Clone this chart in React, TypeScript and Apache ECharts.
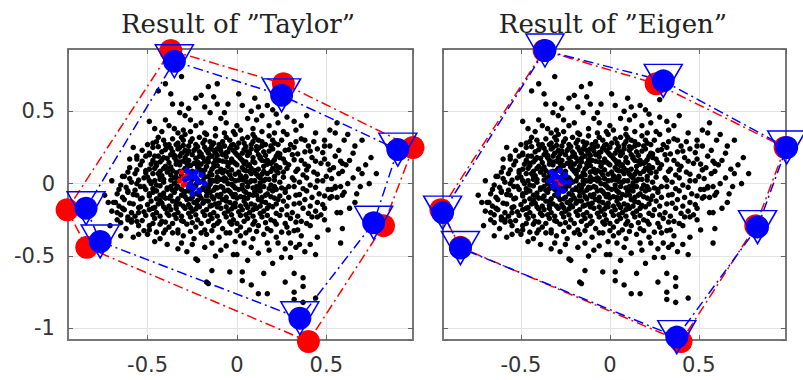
import React, { useEffect, useRef } from "react";
import * as echarts from "echarts";

// Black sample cloud (shared by both panels)
const cloudCore: number[][] = [
  [-0.47,0.28],[-0.44,0.32],[-0.38,0.27],[-0.36,0.31],[-0.30,0.30],[-0.29,0.34],[-0.23,0.27],[-0.21,0.32],[-0.15,0.29],[-0.12,0.33],[-0.10,0.27],[-0.04,0.30],[-0.01,0.34],[0.04,0.28],[0.06,0.32],[0.12,0.30],[0.16,0.27],[0.18,0.33],[0.25,0.30],[0.30,0.27],[0.36,0.31],[0.43,0.29],[0.49,0.26],
  [-0.53,0.23],[-0.47,0.25],[-0.42,0.22],[-0.39,0.26],[-0.33,0.24],[-0.31,0.21],[-0.27,0.26],[-0.24,0.23],[-0.18,0.25],[-0.16,0.21],[-0.11,0.24],[-0.07,0.26],[-0.05,0.22],[0.00,0.25],[0.03,0.21],[0.08,0.24],[0.14,0.26],[0.15,0.22],[0.20,0.24],[0.27,0.23],[0.32,0.25],[0.38,0.22],[0.45,0.24],[0.52,0.26],[0.57,0.23],
  [-0.56,0.17],[-0.51,0.19],[-0.47,0.16],[-0.41,0.18],[-0.37,0.20],[-0.34,0.16],[-0.29,0.18],[-0.25,0.20],[-0.22,0.15],[-0.19,0.18],[-0.14,0.19],[-0.10,0.16],[-0.08,0.20],[-0.03,0.17],[0.01,0.19],[0.05,0.15],[0.09,0.18],[0.12,0.20],[0.17,0.16],[0.22,0.19],[0.26,0.17],[0.31,0.20],[0.36,0.16],[0.42,0.18],[0.49,0.17],[0.55,0.19],[0.63,0.16],
  [-0.60,0.11],[-0.54,0.13],[-0.49,0.10],[-0.45,0.14],[-0.40,0.12],[-0.36,0.09],[-0.32,0.13],[-0.28,0.11],[-0.24,0.14],[-0.21,0.10],[-0.17,0.12],[-0.12,0.14],[-0.09,0.10],[-0.05,0.12],[-0.02,0.15],[0.03,0.11],[0.07,0.13],[0.10,0.09],[0.15,0.12],[0.19,0.14],[0.24,0.11],[0.29,0.13],[0.34,0.10],[0.40,0.12],[0.47,0.14],[0.54,0.11],[0.61,0.13],[0.68,0.10],
  [-0.63,0.05],[-0.57,0.07],[-0.52,0.04],[-0.47,0.07],[-0.43,0.05],[-0.39,0.08],[-0.35,0.04],[-0.31,0.06],[-0.27,0.08],[-0.23,0.04],[-0.19,0.07],[-0.16,0.05],[-0.11,0.08],[-0.07,0.04],[-0.04,0.06],[0.01,0.08],[0.05,0.05],[0.08,0.07],[0.13,0.04],[0.17,0.07],[0.21,0.05],[0.26,0.08],[0.31,0.04],[0.37,0.06],[0.43,0.08],[0.50,0.05],[0.57,0.07],[0.65,0.04],
  [-0.65,-0.01],[-0.59,0.01],[-0.54,-0.02],[-0.49,0.02],[-0.45,-0.01],[-0.41,0.01],[-0.37,-0.02],[-0.33,0.02],[-0.29,0.00],[-0.25,-0.02],[-0.21,0.01],[-0.17,-0.01],[-0.13,0.02],[-0.09,-0.02],[-0.05,0.00],[-0.01,0.02],[0.03,-0.01],[0.07,0.01],[0.11,-0.02],[0.15,0.02],[0.19,-0.01],[0.24,0.01],[0.29,-0.02],[0.35,0.01],[0.41,-0.01],[0.48,0.02],[0.55,-0.02],[0.62,0.00],
  [-0.67,-0.07],[-0.61,-0.05],[-0.56,-0.08],[-0.51,-0.04],[-0.47,-0.06],[-0.43,-0.08],[-0.39,-0.04],[-0.35,-0.06],[-0.31,-0.08],[-0.27,-0.05],[-0.23,-0.07],[-0.19,-0.04],[-0.15,-0.06],[-0.11,-0.08],[-0.07,-0.05],[-0.03,-0.07],[0.01,-0.04],[0.05,-0.06],[0.09,-0.08],[0.13,-0.05],[0.17,-0.07],[0.22,-0.04],[0.27,-0.06],[0.33,-0.08],[0.39,-0.05],[0.46,-0.07],[0.53,-0.04],[0.60,-0.06],
  [-0.68,-0.13],[-0.63,-0.11],[-0.58,-0.14],[-0.53,-0.10],[-0.48,-0.12],[-0.44,-0.14],[-0.40,-0.10],[-0.36,-0.12],[-0.32,-0.14],[-0.28,-0.11],[-0.24,-0.13],[-0.20,-0.10],[-0.16,-0.12],[-0.12,-0.14],[-0.08,-0.11],[-0.04,-0.13],[0.00,-0.10],[0.04,-0.12],[0.08,-0.14],[0.12,-0.11],[0.16,-0.13],[0.21,-0.10],[0.26,-0.12],[0.32,-0.14],[0.38,-0.11],[0.45,-0.13],[0.52,-0.10],
  [-0.70,-0.19],[-0.64,-0.17],[-0.59,-0.20],[-0.54,-0.16],[-0.49,-0.18],[-0.45,-0.20],[-0.41,-0.16],[-0.37,-0.18],[-0.33,-0.20],[-0.29,-0.17],[-0.25,-0.19],[-0.21,-0.16],[-0.17,-0.18],[-0.13,-0.20],[-0.09,-0.17],[-0.05,-0.19],[-0.01,-0.16],[0.03,-0.18],[0.07,-0.20],[0.11,-0.17],[0.15,-0.19],[0.20,-0.16],[0.25,-0.18],[0.31,-0.20],[0.37,-0.17],[0.44,-0.19],
  [-0.67,-0.25],[-0.61,-0.23],[-0.56,-0.26],[-0.51,-0.22],[-0.46,-0.24],[-0.42,-0.26],[-0.38,-0.22],[-0.34,-0.24],[-0.30,-0.26],[-0.26,-0.23],[-0.22,-0.25],[-0.18,-0.22],[-0.14,-0.24],[-0.10,-0.26],[-0.06,-0.23],[-0.02,-0.25],[0.02,-0.22],[0.06,-0.24],[0.10,-0.26],[0.14,-0.23],[0.19,-0.25],[0.24,-0.22],[0.30,-0.24],[0.36,-0.26],[0.42,-0.23],[0.49,-0.25],
  [-0.62,-0.31],[-0.55,-0.29],[-0.49,-0.32],[-0.43,-0.28],[-0.38,-0.30],[-0.33,-0.32],[-0.28,-0.28],[-0.23,-0.30],[-0.18,-0.32],[-0.13,-0.29],[-0.08,-0.31],[-0.03,-0.28],[0.02,-0.30],[0.07,-0.32],[0.12,-0.29],[0.17,-0.31],[0.22,-0.28],[0.28,-0.30],[0.34,-0.32],[0.41,-0.29],
  [-0.58,-0.37],[-0.50,-0.35],[-0.43,-0.38],[-0.36,-0.34],[-0.30,-0.36],[-0.24,-0.38],[-0.17,-0.35],[-0.10,-0.37],[-0.04,-0.34],[0.02,-0.36],[0.09,-0.38],[0.15,-0.35],[0.22,-0.37],[0.29,-0.34],[0.36,-0.36],
  [-0.40,0.27],[-0.33,0.28],[-0.26,0.29],[-0.19,0.28],[-0.08,0.29],[0.01,0.28],[0.09,0.29],[0.21,0.28],
  [-0.36,0.22],[-0.29,0.23],[-0.21,0.22],[-0.13,0.23],[-0.02,0.23],[0.06,0.22],[0.11,0.23],[0.23,0.21],
  [-0.43,0.15],[-0.32,0.15],[-0.27,0.16],[-0.16,0.15],[-0.06,0.15],[0.03,0.16],[0.14,0.16],[0.20,0.15],
  [-0.38,0.10],[-0.30,0.09],[-0.19,0.09],[-0.14,0.10],[-0.07,0.09],[0.05,0.09],[0.12,0.10],[0.22,0.09],
  [-0.41,0.03],[-0.33,0.03],[-0.25,0.03],[-0.14,0.02],[-0.09,0.03],[0.03,0.03],[0.10,0.02],[0.18,0.03],
  [-0.39,-0.03],[-0.31,-0.04],[-0.19,-0.03],[-0.11,-0.03],[-0.01,-0.03],[0.09,-0.03],[0.15,-0.02],[0.25,-0.03],
  [-0.41,-0.09],[-0.29,-0.09],[-0.21,-0.08],[-0.10,-0.09],[0.02,-0.09],[0.11,-0.08],[0.19,-0.09],
  [-0.34,-0.15],[-0.22,-0.15],[-0.14,-0.15],[-0.02,-0.15],[0.10,-0.15],[0.18,-0.15],
];

const cloudFill: number[][] = [
  [-0.33,0.35],[-0.26,0.36],[-0.17,0.34],[-0.07,0.35],[0.02,0.37],[0.09,0.34],[0.14,0.36],[0.21,0.35],[0.28,0.34],
  [-0.50,0.27],[-0.45,0.29],[-0.41,0.30],[-0.34,0.27],[-0.31,0.32],[-0.25,0.31],[-0.18,0.30],[-0.13,0.28],[-0.06,0.32],[-0.02,0.27],[0.03,0.31],[0.08,0.27],[0.10,0.32],[0.14,0.29],[0.20,0.30],[0.23,0.27],[0.33,0.29],[0.40,0.26],
  [-0.49,0.21],[-0.44,0.19],[-0.40,0.235],[-0.35,0.195],[-0.32,0.25],[-0.28,0.205],[-0.23,0.245],[-0.20,0.205],[-0.15,0.24],[-0.12,0.21],[-0.09,0.225],[-0.04,0.245],[-0.01,0.215],[0.04,0.235],[0.06,0.195],[0.11,0.255],[0.13,0.185],[0.18,0.225],[0.24,0.205],[0.29,0.235],[0.34,0.205],[0.41,0.225],[0.48,0.215],
  [-0.53,0.155],[-0.45,0.125],[-0.42,0.165],[-0.38,0.145],[-0.35,0.18],[-0.30,0.155],[-0.26,0.125],[-0.23,0.175],[-0.20,0.135],[-0.16,0.175],[-0.12,0.165],[-0.11,0.125],[-0.06,0.185],[-0.04,0.145],[0.00,0.13],[0.02,0.175],[0.06,0.125],[0.10,0.145],[0.13,0.175],[0.17,0.135],[0.21,0.165],[0.27,0.145],[0.32,0.165],[0.38,0.135],[0.44,0.155],[0.51,0.135],[0.58,0.155],
  [-0.56,0.095],[-0.51,0.075],[-0.46,0.105],[-0.43,0.085],[-0.37,0.115],[-0.34,0.075],[-0.29,0.105],[-0.25,0.085],[-0.22,0.115],[-0.18,0.095],[-0.15,0.075],[-0.13,0.115],[-0.08,0.075],[-0.03,0.095],[-0.01,0.065],[0.04,0.095],[0.08,0.105],[0.11,0.065],[0.15,0.085],[0.20,0.105],[0.23,0.075],[0.28,0.105],[0.33,0.085],[0.39,0.095],[0.45,0.065],[0.52,0.095],[0.59,0.085],
  [-0.60,0.035],[-0.55,0.025],[-0.50,0.045],[-0.46,0.02],[-0.42,0.055],[-0.37,0.025],[-0.34,0.045],[-0.29,0.025],[-0.27,0.045],[-0.22,0.025],[-0.18,0.045],[-0.15,0.02],[-0.11,0.045],[-0.07,0.02],[-0.03,0.035],[0.01,0.025],[0.05,0.045],[0.08,0.02],[0.12,0.05],[0.16,0.03],[0.21,0.025],[0.26,0.045],[0.32,0.025],[0.39,0.04],[0.45,0.02],[0.53,0.035],
  [-0.62,-0.025],[-0.57,-0.045],[-0.52,-0.02],[-0.47,-0.035],[-0.43,-0.015],[-0.36,-0.045],[-0.33,-0.02],[-0.27,-0.03],[-0.23,-0.015],[-0.21,-0.045],[-0.16,-0.03],[-0.13,-0.045],[-0.08,-0.025],[-0.05,-0.045],[-0.02,-0.015],[0.03,-0.035],[0.06,-0.02],[0.11,-0.045],[0.13,-0.02],[0.18,-0.035],[0.21,-0.02],[0.27,-0.04],[0.32,-0.02],[0.37,-0.035],[0.44,-0.025],[0.51,-0.04],[0.58,-0.02],
  [-0.64,-0.095],[-0.58,-0.075],[-0.54,-0.105],[-0.49,-0.085],[-0.45,-0.105],[-0.37,-0.085],[-0.33,-0.105],[-0.30,-0.075],[-0.25,-0.095],[-0.22,-0.115],[-0.17,-0.085],[-0.13,-0.105],[-0.09,-0.075],[-0.06,-0.095],[-0.01,-0.075],[0.04,-0.095],[0.07,-0.075],[0.14,-0.095],[0.16,-0.08],[0.24,-0.085],[0.29,-0.095],[0.35,-0.075],[0.42,-0.095],[0.49,-0.085],[0.56,-0.095],
  [-0.66,-0.155],[-0.60,-0.135],[-0.55,-0.165],[-0.50,-0.145],[-0.46,-0.165],[-0.42,-0.135],[-0.38,-0.155],[-0.30,-0.155],[-0.26,-0.165],[-0.19,-0.135],[-0.15,-0.155],[-0.10,-0.135],[-0.06,-0.16],[-0.01,-0.135],[0.02,-0.155],[0.06,-0.165],[0.13,-0.155],[0.22,-0.14],[0.28,-0.155],[0.35,-0.135],[0.41,-0.155],[0.48,-0.145],
  [-0.65,-0.215],[-0.57,-0.225],[-0.52,-0.195],[-0.47,-0.215],[-0.43,-0.225],[-0.39,-0.205],[-0.35,-0.215],[-0.31,-0.225],[-0.27,-0.205],[-0.23,-0.215],[-0.19,-0.195],[-0.15,-0.215],[-0.11,-0.225],[-0.07,-0.205],[-0.03,-0.215],[0.01,-0.195],[0.05,-0.215],[0.09,-0.225],[0.13,-0.205],[0.17,-0.22],[0.22,-0.205],[0.28,-0.215],[0.34,-0.225],[0.40,-0.205],[0.47,-0.215],
  [-0.59,-0.265],[-0.53,-0.255],[-0.47,-0.275],[-0.40,-0.265],[-0.36,-0.275],[-0.31,-0.255],[-0.25,-0.27],[-0.20,-0.275],[-0.16,-0.26],[-0.11,-0.275],[-0.04,-0.265],[0.00,-0.275],[0.04,-0.26],[0.09,-0.28],[0.16,-0.27],[0.21,-0.26],[0.27,-0.275],[0.33,-0.265],[0.39,-0.275],
  [-0.52,-0.325],[-0.45,-0.335],[-0.40,-0.32],[-0.33,-0.34],[-0.26,-0.33],[-0.20,-0.34],[-0.14,-0.325],[-0.06,-0.34],[0.00,-0.325],[0.05,-0.34],[0.11,-0.33],[0.19,-0.325],[0.25,-0.335],[0.32,-0.325],
];

const cloudDense: number[][] = [
  [-0.44,0.255],[-0.37,0.245],[-0.30,0.265],[-0.22,0.255],[-0.14,0.265],[-0.09,0.25],[-0.03,0.265],[0.05,0.255],[0.12,0.245],[0.19,0.26],
  [-0.46,0.19],[-0.39,0.175],[-0.32,0.19],[-0.27,0.225],[-0.21,0.19],[-0.17,0.23],[-0.11,0.195],[-0.06,0.215],[0.00,0.20],[0.07,0.21],[0.16,0.195],[0.24,0.18],
  [-0.48,0.135],[-0.41,0.105],[-0.34,0.135],[-0.28,0.14],[-0.22,0.125],[-0.18,0.155],[-0.13,0.14],[-0.08,0.155],[-0.01,0.14],[0.04,0.14],[0.09,0.155],[0.16,0.155],[0.22,0.125],
  [-0.44,0.07],[-0.37,0.06],[-0.32,0.085],[-0.26,0.06],[-0.20,0.085],[-0.14,0.06],[-0.09,0.085],[-0.05,0.08],[0.02,0.055],[0.07,0.085],[0.14,0.065],[0.19,0.085],
  [-0.48,0.00],[-0.43,0.03],[-0.35,0.00],[-0.31,0.035],[-0.23,-0.005],[-0.19,0.02],[-0.15,-0.005],[-0.11,0.015],[-0.06,0.03],[-0.03,-0.005],[0.05,0.015],[0.13,0.005],
  [-0.45,-0.05],[-0.41,-0.065],[-0.34,-0.035],[-0.29,-0.055],[-0.25,-0.04],[-0.17,-0.055],[-0.12,-0.025],[-0.04,-0.055],[0.04,-0.05],[0.10,-0.055],[0.20,-0.05],
  [-0.43,-0.115],[-0.38,-0.10],[-0.34,-0.125],[-0.26,-0.105],[-0.18,-0.12],[-0.14,-0.09],[-0.06,-0.12],[-0.02,-0.09],[0.06,-0.10],[0.14,-0.125],[0.23,-0.11],
  [-0.40,-0.175],[-0.34,-0.17],[-0.27,-0.145],[-0.23,-0.175],[-0.11,-0.16],[-0.03,-0.175],[0.05,-0.145],[0.09,-0.18],[0.17,-0.17],
];

const cloudUpper: number[][] = [
  [-0.31,0.74],[-0.40,0.69],[-0.44,0.64],[-0.37,0.62],[-0.16,0.67],[-0.11,0.69],[-0.23,0.59],[-0.20,0.61],[-0.36,0.55],[-0.31,0.55],[-0.13,0.60],[-0.11,0.55],[-0.32,0.49],[-0.29,0.47],[-0.49,0.43],[-0.46,0.38],[-0.42,0.36],[-0.38,0.40],[-0.35,0.38],[-0.30,0.37],[-0.23,0.40],[-0.20,0.42],[-0.15,0.49],[-0.07,0.49],[-0.18,0.35],[-0.12,0.38],
  [0.01,0.62],[0.10,0.59],[0.03,0.54],[0.12,0.53],[0.17,0.54],[0.20,0.51],[0.28,0.58],[0.28,0.46],[0.39,0.47],[0.06,0.45],[0.14,0.47],[0.23,0.42],[0.33,0.37],[0.38,0.30],[0.44,0.35],[0.52,0.37],[0.56,0.42],[0.55,0.35],[0.49,0.30],[0.70,0.30],
  [-0.40,0.44],[-0.26,0.44],[-0.06,0.42],[0.00,0.40],[0.09,0.38],[0.18,0.40],[-0.02,0.36],[0.26,0.36],[-0.09,0.45],[0.11,0.44],[-0.27,0.52],[-0.05,0.55],[0.08,0.50],[-0.18,0.53],[0.22,0.48],[0.32,0.43],[0.36,0.40],[0.62,0.34],[0.66,0.26],[0.60,0.30],
];

const cloudSides: number[][] = [
  [0.59,0.14],[0.65,0.21],[0.70,0.07],[0.74,0.00],[0.75,0.18],[0.55,-0.03],[0.59,-0.08],[0.53,-0.09],[0.67,-0.07],[0.58,-0.20],[0.66,-0.13],[0.49,-0.17],[0.45,-0.23],[0.59,-0.31],[0.51,-0.32],[0.45,-0.37],[0.56,-0.20],[0.58,-0.41],[0.72,0.13],[0.69,-0.02],[0.63,-0.17],[0.78,0.07],
  [-0.56,0.19],[-0.61,0.08],[-0.64,0.05],[-0.56,0.00],[-0.66,-0.04],[-0.61,-0.06],[-0.72,-0.13],[-0.67,-0.20],[-0.63,-0.18],[-0.59,-0.25],[-0.55,-0.20],[-0.65,-0.27],[-0.49,0.20],[-0.51,0.09],[-0.49,-0.07],[-0.47,-0.17],[-0.49,-0.29],[-0.41,-0.34],[-0.55,-0.35],[-0.69,-0.13],[-0.71,-0.29],[-0.61,-0.25],[-0.65,-0.36],[-0.58,0.25],[-0.60,0.17],[-0.70,0.02],[-0.74,-0.08],
];

const cloudLower: number[][] = [
  [-0.46,-0.40],[-0.39,-0.42],[-0.31,-0.41],[-0.25,-0.42],[-0.18,-0.44],[-0.14,-0.41],[-0.09,-0.46],[-0.23,-0.52],[-0.14,-0.60],[-0.04,-0.61],[-0.16,-0.69],[-0.22,-0.53],[-0.17,-0.68],
  [0.04,-0.41],[0.17,-0.41],[0.23,-0.41],[0.30,-0.41],[0.35,-0.42],[0.41,-0.42],[0.00,-0.49],[0.12,-0.48],[0.20,-0.55],[0.25,-0.51],[0.30,-0.51],[0.44,-0.49],[0.15,-0.62],[0.03,-0.61],[0.03,-0.67],[0.08,-0.70],[0.27,-0.68],[0.32,-0.62],[0.37,-0.65],[0.37,-0.71],[0.32,-0.75],[0.12,-0.76],[0.17,-0.76],[0.32,-0.80],[0.37,-0.82],[0.44,-0.79],[-0.02,-0.49],
  [-0.33,-0.45],[-0.06,-0.43],[0.08,-0.44],[0.27,-0.45],[-0.12,-0.50],[0.06,-0.53],[0.38,-0.47],[0.18,-0.46],[-0.28,-0.47],[-0.01,-0.40],[0.33,-0.44],
];

// Ground-truth vertices (red) and the two estimates (blue), in polygon order
const trueVertices: number[][] = [[-0.37,0.92],[0.26,0.69],[0.985,0.25],[0.82,-0.29],[0.40,-1.09],[-0.84,-0.44],[-0.95,-0.18]];
const taylorVertices: number[][] = [[-0.35,0.845],[0.25,0.61],[0.90,0.235],[0.765,-0.27],[0.352,-0.93],[-0.765,-0.40],[-0.844,-0.17]];
const eigenVertices: number[][] = [[-0.365,0.92],[0.30,0.71],[0.994,0.25],[0.83,-0.30],[0.376,-1.06],[-0.84,-0.445],[-0.94,-0.20]];

// Small red / blue points clustered near the centre
const taylorRedBlob: number[][] = [[-0.31,0.08],[-0.30,0.04],[-0.29,0.00],[-0.32,0.02],[-0.28,0.06],[-0.30,-0.01]];
const taylorBlueBlob: number[][] = [[-0.28,0.09],[-0.25,0.05],[-0.22,0.02],[-0.26,0.00],[-0.24,-0.03],[-0.20,0.06],[-0.27,0.04],[-0.23,0.08],[-0.18,0.00],[-0.21,-0.05],[-0.29,0.03],[-0.25,-0.07],[-0.23,0.04],[-0.26,0.07],[-0.21,0.01],[-0.27,-0.02]];
const eigenRedBlob: number[][] = [[-0.30,0.03],[-0.28,0.00]];
const eigenBlueBlob: number[][] = [[-0.33,0.08],[-0.30,0.05],[-0.27,0.02],[-0.31,0.00],[-0.29,-0.03],[-0.25,0.06],[-0.32,0.04],[-0.28,0.09],[-0.23,0.01],[-0.26,-0.05],[-0.34,0.02],[-0.29,-0.07],[-0.28,0.04],[-0.31,0.07],[-0.26,0.01],[-0.32,-0.02]];

const titles = ["Result of \u201DTaylor\u201D", "Result of \u201DEigen\u201D"];
const xRanges: number[][] = [[-0.945, 0.985], [-0.938, 0.99]];
const yRange: number[] = [-1.08, 0.93];

const cloud = [...cloudCore, ...cloudFill, ...cloudDense, ...cloudUpper, ...cloudSides, ...cloudLower];
const closed = (v: number[][]) => [...v, v[0]];

export default function App() {
  const ref = useRef<HTMLDivElement>(null);
  useEffect(() => {
    if (!ref.current) return;
    const chart = echarts.init(ref.current, undefined, { renderer: "svg" });
    const grids = [
      { left: 68, top: 49, width: 345, height: 291 },
      { left: 443, top: 49, width: 343, height: 291 },
    ];
    const labelStyle = { fontFamily: "DejaVu Sans", fontSize: 21, color: "#333" };
    const axisLine = { show: true, onZero: false, lineStyle: { color: "#777", width: 2 } };
    const tick = { show: true, inside: true, length: 5, lineStyle: { color: "#666", width: 1 } };
    const xAxis: any[] = [];
    const yAxis: any[] = [];
    [0, 1].forEach((p) => {
      xAxis.push({
        type: "value", gridIndex: p, min: xRanges[p][0], max: xRanges[p][1], splitNumber: 4,
        position: "bottom", axisLine, axisTick: tick,
        axisLabel: { ...labelStyle, margin: 14, showMinLabel: false, showMaxLabel: false },
        splitLine: { show: true, lineStyle: { color: "#e3e3e3", width: 1 } },
      });
      yAxis.push({
        type: "value", gridIndex: p, min: yRange[0], max: yRange[1], splitNumber: 4,
        position: "left", axisLine, axisTick: tick,
        axisLabel: { ...labelStyle, show: p === 0, margin: 13, showMinLabel: false, showMaxLabel: false },
        splitLine: { show: true, lineStyle: { color: "#e3e3e3", width: 1 } },
      });
    });
    [0, 1].forEach((p) => {
      xAxis.push({
        type: "value", gridIndex: p, min: xRanges[p][0], max: xRanges[p][1], splitNumber: 4,
        position: "top", axisLine, axisTick: tick, axisLabel: { show: false }, splitLine: { show: false },
      });
      yAxis.push({
        type: "value", gridIndex: p, min: yRange[0], max: yRange[1], splitNumber: 4,
        position: "right", axisLine, axisTick: tick, axisLabel: { show: false }, splitLine: { show: false },
      });
    });

    const dash = [10, 4, 2, 4];
    const series: any[] = [];
    const panels = [
      { est: taylorVertices, red: taylorRedBlob, blue: taylorBlueBlob },
      { est: eigenVertices, red: eigenRedBlob, blue: eigenBlueBlob },
    ];
    panels.forEach((pn, p) => {
      const ax = { xAxisIndex: p, yAxisIndex: p };
      series.push({ type: "scatter", ...ax, data: cloud, symbolSize: 5.5, itemStyle: { color: "#000", opacity: 1 }, z: 1, silent: true });
      series.push({ type: "scatter", ...ax, data: pn.red, symbolSize: 5.5, itemStyle: { color: "#ff0000", opacity: 1 }, z: 2 });
      series.push({ type: "scatter", ...ax, data: pn.blue, symbolSize: 6, itemStyle: { color: "#0000ff", opacity: 1 }, z: 2 });
      series.push({ type: "line", ...ax, data: closed(trueVertices), symbol: "none", clip: false,
        lineStyle: { color: "#ff0000", width: 1.5, type: dash }, z: 3 });
      series.push({ type: "line", ...ax, data: closed(pn.est), symbol: "none", clip: false,
        lineStyle: { color: "#0000ff", width: 1.5, type: dash }, z: 3 });
      series.push({ type: "scatter", ...ax, data: trueVertices, symbolSize: 23, clip: false,
        itemStyle: { color: "#ff0000", opacity: 1 }, z: 4 });
      series.push({ type: "scatter", ...ax, data: pn.est, symbolSize: 23, clip: false,
        itemStyle: { color: "#0000ff", opacity: 1 }, z: 5 });
      series.push({ type: "scatter", ...ax, data: pn.est, symbol: "triangle", symbolRotate: 180,
        symbolSize: [38, 33], clip: false,
        itemStyle: { color: "rgba(0,0,0,0)", borderColor: "#0000ff", borderWidth: 1.5, opacity: 1 }, z: 6 });
    });

    chart.setOption({
      animation: false,
      backgroundColor: "#fff",
      grid: grids,
      xAxis,
      yAxis,
      series,
      graphic: [
        { type: "text", x: 238, y: 24, style: { text: titles[0], fontFamily: "DejaVu Serif", fontSize: 26, fill: "#222", align: "center", verticalAlign: "middle" } },
        { type: "text", x: 613, y: 24, style: { text: titles[1], fontFamily: "DejaVu Serif", fontSize: 26, fill: "#222", align: "center", verticalAlign: "middle" } },
      ],
    });
    return () => chart.dispose();
  }, []);
  return <div ref={ref} style={{ position: "absolute", left: 0, top: 0, width: 803, height: 380 }} />;
}
